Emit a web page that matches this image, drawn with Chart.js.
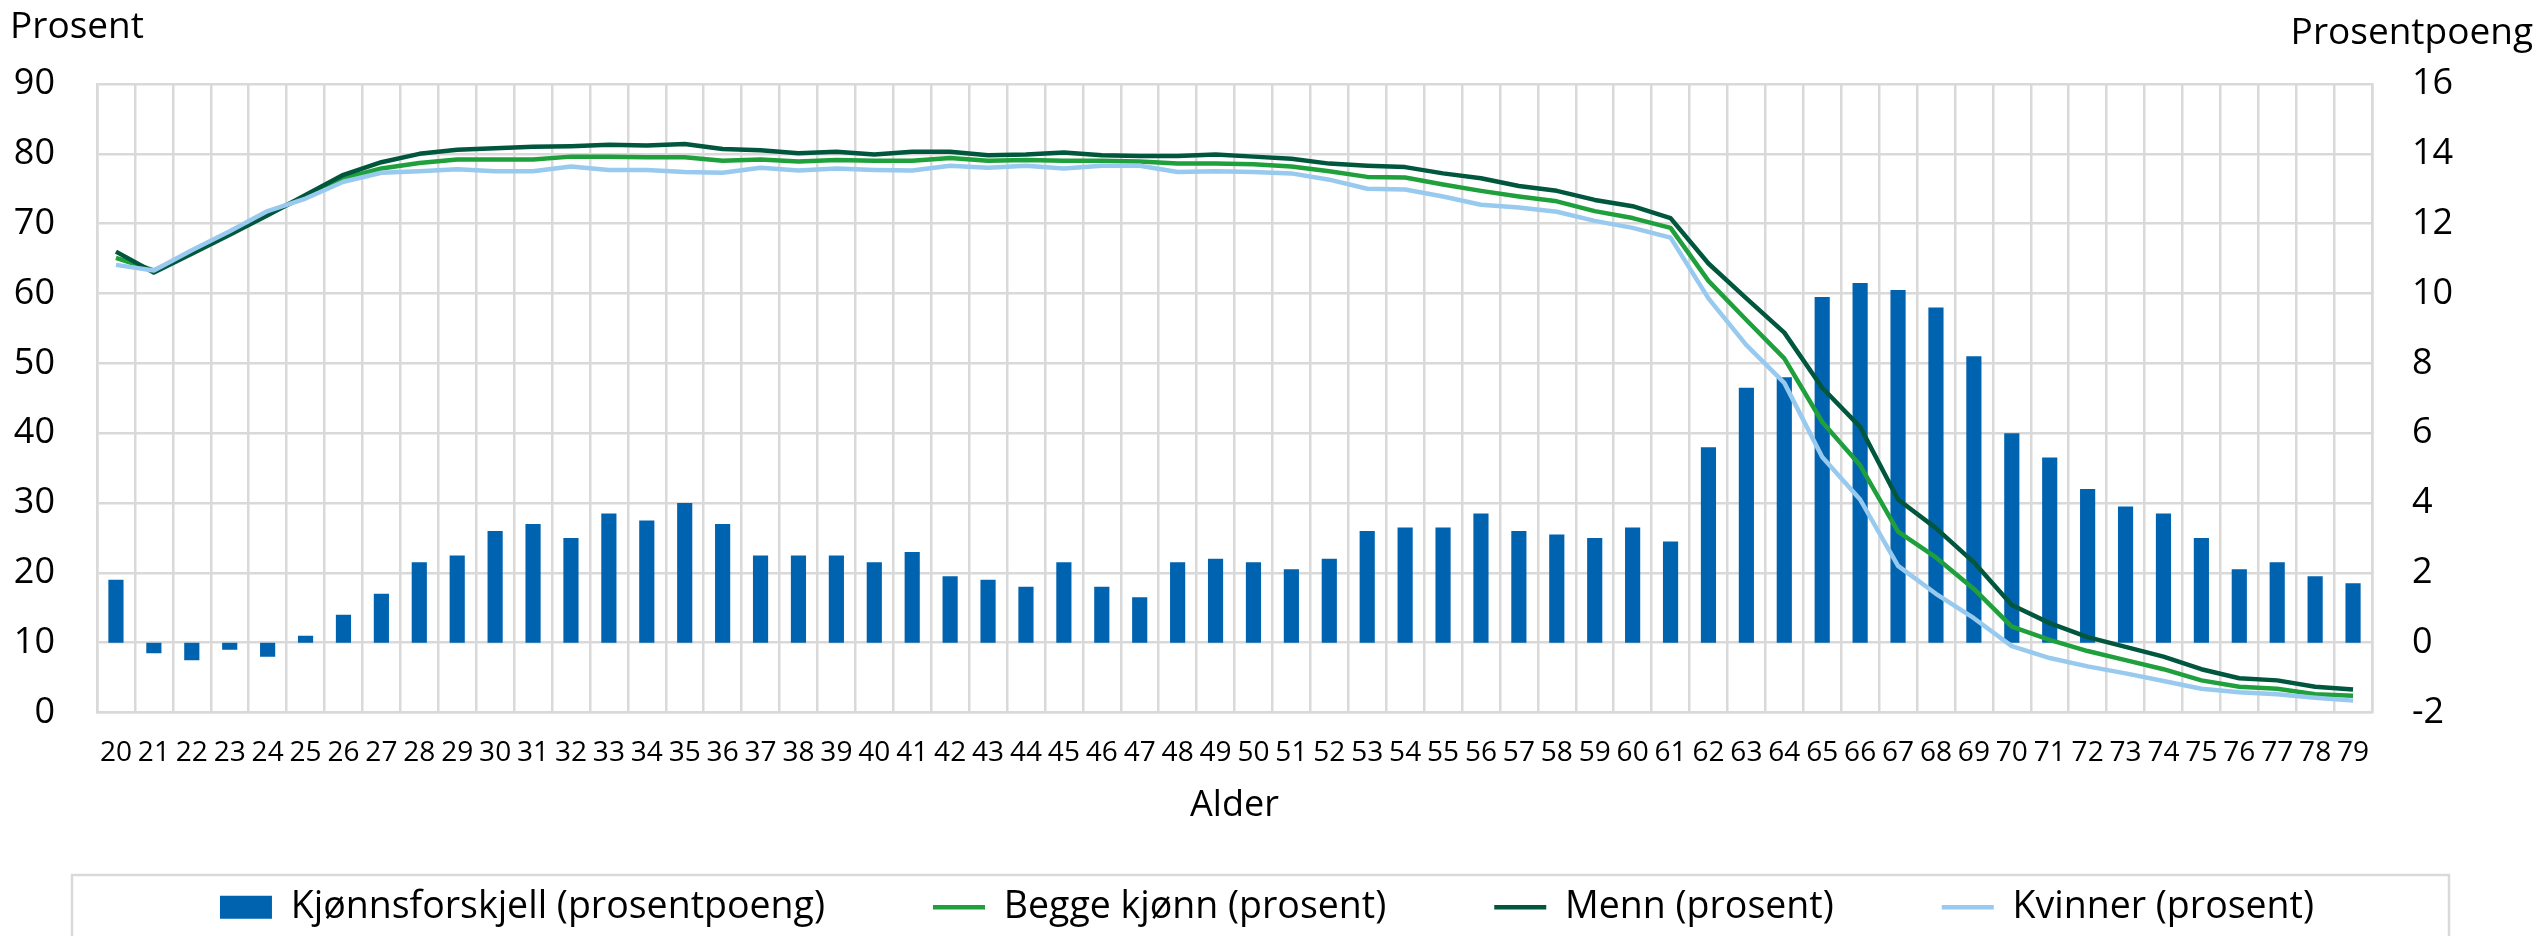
<!DOCTYPE html>
<html lang="no">
<head>
<meta charset="utf-8">
<title>Sysselsetting etter alder</title>
<script src="https://cdn.jsdelivr.net/npm/chart.js@4.4.1/dist/chart.umd.min.js"></script>
<style>
  html, body { margin: 0; padding: 0; background: #fff; }
  canvas { display: block; }
</style>
</head>
<body>
<canvas id="grafikk" width="2534" height="936"></canvas>
<script>
// alder 20-79
const alder = ['20','21','22','23','24','25','26','27','28','29',
  '30','31','32','33','34','35','36','37','38','39',
  '40','41','42','43','44','45','46','47','48','49',
  '50','51','52','53','54','55','56','57','58','59',
  '60','61','62','63','64','65','66','67','68','69',
  '70','71','72','73','74','75','76','77','78','79'];

// prosentpoeng (høyre akse)
const kjonnsforskjell = [1.8, -0.3, -0.5, -0.2, -0.4, 0.2, 0.8, 1.4, 2.3, 2.5,
  3.2, 3.4, 3.0, 3.7, 3.5, 4.0, 3.4, 2.5, 2.5, 2.5,
  2.3, 2.6, 1.9, 1.8, 1.6, 2.3, 1.6, 1.3, 2.3, 2.4,
  2.3, 2.1, 2.4, 3.2, 3.3, 3.3, 3.7, 3.2, 3.1, 3.0,
  3.3, 2.9, 5.6, 7.3, 7.6, 9.9, 10.3, 10.1, 9.6, 8.2,
  6.0, 5.3, 4.4, 3.9, 3.7, 3.0, 2.1, 2.3, 1.9, 1.7];

// prosent (venstre akse)
const beggeKjonn = [65.1, 63.3, 65.9, 68.6, 71.4, 73.9, 76.5, 77.9, 78.7, 79.2,
  79.2, 79.2, 79.6, 79.6, 79.5, 79.5, 79.0, 79.2, 78.9, 79.1,
  79.0, 79.0, 79.4, 79.0, 79.1, 79.0, 79.0, 78.9, 78.6, 78.6,
  78.5, 78.2, 77.5, 76.7, 76.6, 75.6, 74.7, 73.9, 73.2, 71.8,
  70.8, 69.4, 61.8, 56.2, 50.7, 41.6, 35.4, 25.9, 22.2, 17.7,
  12.3, 10.4, 8.8, 7.5, 6.2, 4.6, 3.7, 3.4, 2.6, 2.4];

const menn = [66.0, 63.0, 65.7, 68.4, 71.2, 74.1, 77.0, 78.8, 80.0, 80.6,
  80.8, 81.0, 81.1, 81.3, 81.2, 81.4, 80.7, 80.5, 80.1, 80.3,
  79.9, 80.3, 80.3, 79.8, 79.9, 80.2, 79.8, 79.7, 79.7, 79.9,
  79.6, 79.3, 78.6, 78.3, 78.1, 77.2, 76.5, 75.4, 74.7, 73.4,
  72.5, 70.8, 64.3, 59.3, 54.4, 46.5, 40.9, 30.5, 26.4, 21.5,
  15.4, 12.8, 10.8, 9.4, 8.0, 6.2, 4.9, 4.6, 3.7, 3.3];

const kvinner = [64.1, 63.3, 66.2, 68.9, 71.8, 73.6, 76.0, 77.3, 77.5, 77.8,
  77.5, 77.5, 78.2, 77.7, 77.7, 77.4, 77.3, 78.0, 77.6, 77.9,
  77.7, 77.6, 78.3, 78.0, 78.3, 77.9, 78.3, 78.3, 77.4, 77.5,
  77.4, 77.2, 76.3, 75.0, 74.9, 73.9, 72.7, 72.3, 71.7, 70.4,
  69.4, 68.0, 59.3, 52.6, 47.2, 36.6, 30.5, 21.0, 17.0, 13.5,
  9.5, 7.8, 6.6, 5.6, 4.5, 3.4, 2.9, 2.6, 2.1, 1.7];

const seriNavn = ['Kjønnsforskjell (prosentpoeng)', 'Begge kjønn (prosent)', 'Menn (prosent)', 'Kvinner (prosent)'];
const xTittel = 'Alder';
const venstreTittel = 'Prosent';
const hoyreTittel = 'Prosentpoeng';

const font = "'Open Sans', sans-serif";
const grid = '#d9d9d9';

Chart.defaults.color = '#000';
Chart.defaults.font.family = font;

// aksetitler oppe i hjørnene + ramme rundt forklaringen
const ekstraPlugin = {
  id: 'ekstra',
  afterDraw(chart) {
    const c = chart.ctx;
    c.save();
    c.fillStyle = '#000';
    c.font = '37px ' + font;
    c.textBaseline = 'alphabetic';
    c.textAlign = 'left';
    c.fillText(venstreTittel, 10, 38);
    c.textAlign = 'right';
    c.fillText(hoyreTittel, 2533, 44);
    c.strokeStyle = grid;
    c.lineWidth = 2.5;
    c.strokeRect(72, 875, 2377, 80);
    c.restore();
  }
};

new Chart(document.getElementById('grafikk'), {
  type: 'bar',
  data: {
    labels: alder,
    datasets: [
      {
        type: 'bar',
        label: seriNavn[0],
        data: kjonnsforskjell,
        yAxisID: 'y1',
        backgroundColor: '#0063af',
        borderWidth: 0,
        barPercentage: 0.4,
        categoryPercentage: 1,
        pointStyle: 'rect',
        order: 4
      },
      {
        type: 'line',
        label: seriNavn[1],
        data: beggeKjonn,
        yAxisID: 'y',
        borderColor: '#1fa03c',
        backgroundColor: '#1fa03c',
        borderWidth: 4.5,
        pointRadius: 0,
        pointStyle: 'line',
        borderJoinStyle: 'round',
        tension: 0,
        order: 3
      },
      {
        type: 'line',
        label: seriNavn[2],
        data: menn,
        yAxisID: 'y',
        borderColor: '#00573d',
        backgroundColor: '#00573d',
        borderWidth: 4.5,
        pointRadius: 0,
        pointStyle: 'line',
        borderJoinStyle: 'round',
        tension: 0,
        order: 2
      },
      {
        type: 'line',
        label: seriNavn[3],
        data: kvinner,
        yAxisID: 'y',
        borderColor: '#98c9ee',
        backgroundColor: '#98c9ee',
        borderWidth: 4.5,
        pointRadius: 0,
        pointStyle: 'line',
        borderJoinStyle: 'round',
        tension: 0,
        order: 1
      }
    ]
  },
  options: {
    responsive: false,
    animation: false,
    devicePixelRatio: 1,
    layout: { padding: { top: 84, left: 0, right: 0, bottom: 0 } },
    plugins: {
      tooltip: { enabled: false },
      legend: {
        position: 'bottom',
        labels: {
          usePointStyle: true,
          pointStyleWidth: 52,
          boxHeight: 23,
          padding: 108,
          font: { size: 37.5 },
          color: '#000',
          sort: (a, b) => a.datasetIndex - b.datasetIndex
        }
      }
    },
    scales: {
      x: {
        grid: { color: grid, lineWidth: 2.5, drawTicks: false },
        border: { color: grid, width: 2.5 },
        ticks: { font: { size: 28 }, padding: 24, autoSkip: false, maxRotation: 0 },
        title: { display: true, text: xTittel, font: { size: 36 }, padding: { top: 0, bottom: -47 } },
        afterFit: (s) => { s.height = 68; }
      },
      y: {
        position: 'left',
        min: 0,
        max: 90,
        ticks: { stepSize: 10, font: { size: 36 }, padding: 42 },
        grid: { color: grid, lineWidth: 2.5, drawTicks: false },
        border: { color: grid, width: 2.5 },
        afterFit: (s) => { s.width = 97; }
      },
      y1: {
        position: 'right',
        min: -2,
        max: 16,
        ticks: { stepSize: 2, font: { size: 36 }, padding: 40 },
        grid: { display: false, drawTicks: false },
        border: { color: grid, width: 2.5 },
        afterFit: (s) => { s.width = 162; }
      }
    }
  },
  plugins: [ekstraPlugin]
});
</script>
</body>
</html>
